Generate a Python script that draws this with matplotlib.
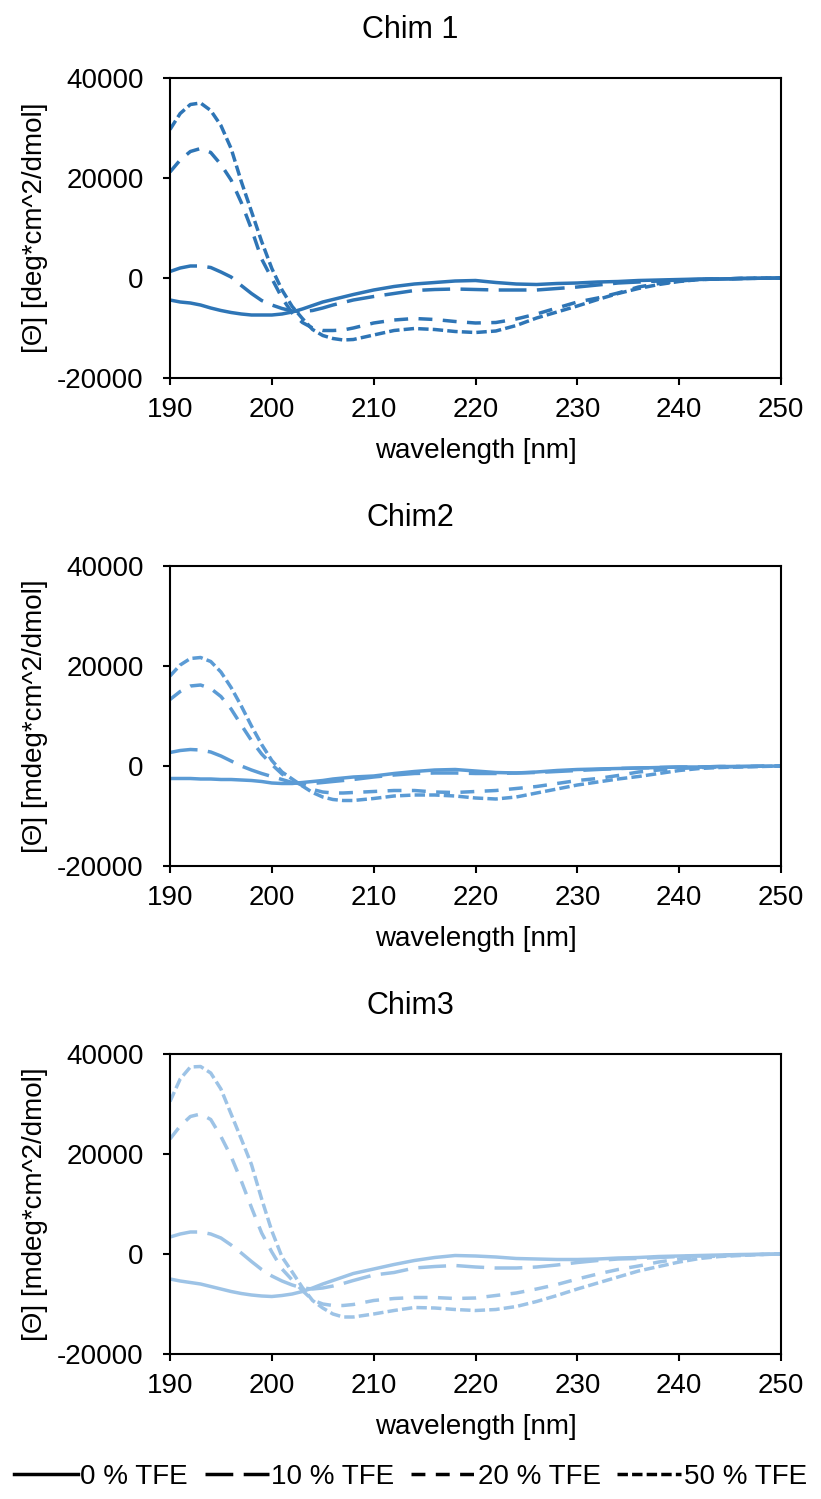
import matplotlib
matplotlib.use("Agg")
import matplotlib.pyplot as plt
from matplotlib.lines import Line2D

plt.rcParams['font.family'] = ['Liberation Sans', 'DejaVu Sans']
plt.rcParams['axes.unicode_minus'] = False

# wavelength grid (nm)
wavelength = list(range(190, 209)) + list(range(210, 251, 2))

# Chim 1
chim1_0 = [-4400, -4800, -5000, -5400, -6000, -6500, -6900, -7200, -7400, -7400,
           -7400, -7200, -6800, -6200, -5500, -4800, -4300, -3800, -3300,
           -2400, -1700, -1200, -900, -600, -500, -900, -1200, -1300, -1100, -1000,
           -800, -700, -500, -400, -300, -200, -200, -100, -50, 0]
chim1_10 = [1300, 2000, 2400, 2400, 2100, 1200, 200, -1500, -3100, -4500,
            -5400, -6100, -6600, -6700, -6500, -6000, -5400, -4900, -4400,
            -3700, -3100, -2500, -2300, -2200, -2300, -2400, -2400, -2400, -2100, -1800,
            -1400, -1000, -800, -600, -400, -300, -200, -100, -50, 0]
chim1_20 = [21200, 23600, 25300, 25900, 25100, 22700, 19600, 15100, 9800, 3800,
            -100, -4000, -7000, -8900, -10000, -10500, -10500, -10400, -10000,
            -9000, -8400, -8100, -8300, -8700, -9000, -8900, -8200, -7200, -6000, -4800,
            -4000, -3000, -1800, -1100, -600, -300, -200, -100, -50, 0]
chim1_50 = [29700, 32900, 34700, 35000, 33500, 30500, 25900, 19300, 13300, 7300,
            1900, -2400, -5700, -8100, -10300, -11500, -12100, -12400, -12300,
            -11400, -10500, -10100, -10300, -10700, -10900, -10600, -9500, -8000, -6800, -5600,
            -4300, -3100, -2100, -1300, -700, -300, -200, -100, -50, 0]

# Chim2
chim2_0 = [-2500, -2500, -2500, -2600, -2600, -2700, -2700, -2800, -2900, -3100,
           -3400, -3500, -3500, -3300, -3100, -2900, -2600, -2400, -2200,
           -2000, -1500, -1100, -800, -700, -1000, -1300, -1400, -1200, -900, -700,
           -600, -500, -400, -300, -200, -200, -100, -100, -50, 0]
chim2_10 = [2700, 3100, 3300, 3200, 2800, 2000, 1000, 0, -800, -1500,
            -2100, -2700, -3300, -3500, -3500, -3300, -3100, -2900, -2700,
            -2200, -1800, -1500, -1400, -1400, -1500, -1500, -1400, -1300, -1100, -900,
            -700, -500, -400, -300, -200, -200, -100, -100, -50, 0]
chim2_20 = [13300, 14900, 16000, 16200, 15500, 13900, 11400, 8200, 5100, 2400,
            300, -1600, -2900, -3900, -4700, -5200, -5400, -5400, -5300,
            -5100, -4900, -4900, -5200, -5300, -5100, -4900, -4500, -4100, -3500, -2900,
            -2500, -1900, -1200, -800, -500, -300, -200, -100, -50, 0]
chim2_50 = [18000, 20200, 21500, 21700, 20900, 18800, 15700, 12000, 8000, 4300,
            1100, -1200, -2600, -4000, -5300, -6200, -6700, -6900, -6900,
            -6500, -6000, -5800, -5800, -6000, -6400, -6600, -6200, -5400, -4600, -3800,
            -3200, -2600, -2100, -1500, -900, -500, -300, -200, -100, 0]

# Chim3
chim3_0 = [-5000, -5400, -5700, -6000, -6500, -7000, -7500, -7900, -8200, -8400,
           -8500, -8300, -8000, -7500, -6800, -6000, -5300, -4600, -3900,
           -3000, -2100, -1300, -700, -300, -400, -600, -900, -1000, -1100, -1100,
           -1000, -800, -700, -500, -400, -300, -200, -100, -50, 0]
chim3_10 = [3400, 4000, 4400, 4400, 4000, 3200, 1800, 200, -1500, -3100,
            -4400, -5400, -6200, -6800, -7000, -6800, -6400, -5900, -5300,
            -4200, -3700, -2800, -2500, -2300, -2600, -2800, -2800, -2600, -2200, -1700,
            -1300, -1000, -900, -700, -500, -400, -300, -200, -100, 0]
chim3_20 = [23000, 25600, 27500, 28000, 26900, 23500, 19500, 14600, 9300, 4200,
            400, -3000, -5200, -7300, -9200, -10000, -10300, -10300, -10100,
            -9300, -8900, -8700, -8700, -8900, -8800, -8300, -7800, -7000, -6100, -5000,
            -4000, -3100, -2400, -1600, -1000, -600, -400, -200, -100, 0]
chim3_50 = [30500, 35000, 37400, 37500, 36200, 33000, 28000, 23000, 17900, 11000,
            4600, -600, -3600, -6700, -9300, -10800, -12000, -12600, -12600,
            -12000, -11300, -10700, -10800, -11100, -11300, -11100, -10500, -9500, -8300, -7000,
            -5800, -4600, -3400, -2500, -1600, -900, -500, -300, -100, 0]

titles = ["Chim 1", "Chim2", "Chim3"]
ylabels = ["[\u0398] [deg*cm^2/dmol]", "[\u0398] [mdeg*cm^2/dmol]", "[\u0398] [mdeg*cm^2/dmol]"]
colors = ["#2E75B6", "#5B9BD5", "#9DC3E6"]
series = [[chim1_0, chim1_10, chim1_20, chim1_50],
          [chim2_0, chim2_10, chim2_20, chim2_50],
          [chim3_0, chim3_10, chim3_20, chim3_50]]
legend_labels = ["0 % TFE", "10 % TFE", "20 % TFE", "50 % TFE"]
dashes = ['-', (0, (8, 3)), (0, (4, 3)), (0, (3, 1.2))]

LW = 2.5
FS = 20

fig = plt.figure(figsize=(8.21, 14.99), dpi=100)
W, H = 821.0, 1499.0
tops = [78, 566, 1054]

for i in range(3):
    top = tops[i]
    ax = fig.add_axes([170 / W, 1 - (top + 300) / H, 611 / W, 300 / H])
    for j in range(4):
        ax.plot(wavelength, series[i][j], color=colors[i], lw=LW, linestyle=dashes[j])
    ax.set_xlim(190, 250)
    ax.set_ylim(-20000, 40000)
    ax.set_xticks([190, 200, 210, 220, 230, 240, 250])
    ax.set_yticks([-20000, 0, 20000, 40000])
    ax.tick_params(direction='out', length=5, width=1.5, labelsize=FS)
    ax.tick_params(axis='x', pad=9)
    ax.tick_params(axis='y', pad=14)
    for s in ax.spines.values():
        s.set_linewidth(1.5)
    ax.set_xlabel("wavelength [nm]", fontsize=FS)
    ax.xaxis.set_label_coords(0.5, -0.2)
    ax.set_ylabel(ylabels[i], fontsize=FS)
    ax.yaxis.set_label_coords(-0.2, 0.5)
    fig.text(410 / W, 1 - (top - 48) / H, titles[i], fontsize=22, ha='center', va='center')

handles = [Line2D([], [], color='black', lw=LW, linestyle=d) for d in dashes]
fig.legend(handles, legend_labels, loc='center', bbox_to_anchor=(0.5, 1 - 1477 / H),
           ncol=4, frameon=False, fontsize=FS, handlelength=2.3, handletextpad=0.1,
           columnspacing=0.6, borderpad=0, borderaxespad=0)

fig.savefig("out.png", dpi=100)
